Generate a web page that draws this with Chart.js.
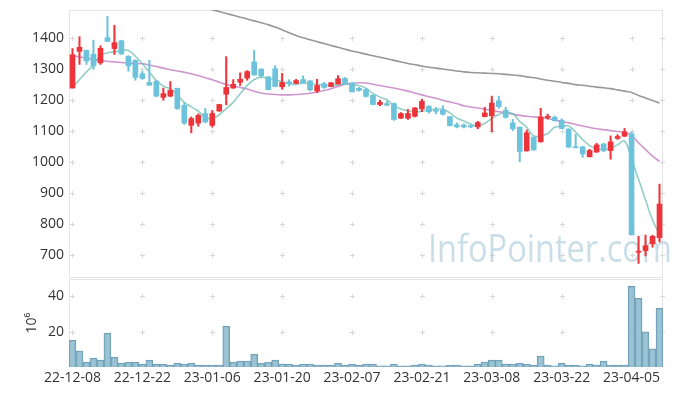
<!DOCTYPE html>
<html>
<head>
<meta charset="utf-8">
<script src="https://cdn.jsdelivr.net/npm/chart.js@4.4.1/dist/chart.umd.min.js"></script>
<style>
	body { margin: 0; background: #ffffff; }
	.wrap { position: relative; width: 673px; height: 396px; overflow: hidden; }
	#priceChart { position: absolute; left: 0; top: 0; }
	#volumeChart { position: absolute; left: 0; top: 278px; }
</style>
</head>
<body>
<div class="wrap">
	<canvas id="priceChart" width="673" height="279"></canvas>
	<canvas id="volumeChart" width="673" height="118"></canvas>
</div>
<script>
// --- Data ---
const dates = [
	"22-12-08", "22-12-09", "22-12-12", "22-12-13", "22-12-14", "22-12-15", "22-12-16", "22-12-19", "22-12-20", "22-12-21",
	"22-12-22", "22-12-23", "22-12-26", "22-12-27", "22-12-28", "22-12-29", "23-01-02", "23-01-03", "23-01-04", "23-01-05",
	"23-01-06", "23-01-09", "23-01-10", "23-01-11", "23-01-12", "23-01-13", "23-01-16", "23-01-17", "23-01-18", "23-01-19",
	"23-01-20", "23-01-25", "23-01-26", "23-01-27", "23-01-30", "23-01-31", "23-02-01", "23-02-02", "23-02-03", "23-02-06",
	"23-02-07", "23-02-08", "23-02-09", "23-02-10", "23-02-13", "23-02-14", "23-02-15", "23-02-16", "23-02-17", "23-02-20",
	"23-02-21", "23-02-22", "23-02-23", "23-02-24", "23-02-27", "23-02-28", "23-03-02", "23-03-03", "23-03-06", "23-03-07",
	"23-03-08", "23-03-09", "23-03-10", "23-03-13", "23-03-14", "23-03-15", "23-03-16", "23-03-17", "23-03-20", "23-03-21",
	"23-03-22", "23-03-23", "23-03-24", "23-03-27", "23-03-28", "23-03-29", "23-03-30", "23-03-31", "23-04-03", "23-04-04",
	"23-04-05", "23-04-06", "23-04-07", "23-04-10", "23-04-11",
];

const opens = [
	1238, 1356, 1359, 1347, 1319, 1400, 1365, 1390, 1340, 1327,
	1284, 1256, 1260, 1208, 1212, 1237, 1182, 1118, 1125, 1156,
	1118, 1164, 1218, 1238, 1257, 1270, 1322, 1299, 1274, 1300,
	1242, 1258, 1253, 1265, 1261, 1229, 1252, 1243, 1251, 1269,
	1254, 1237, 1233, 1215, 1185, 1188, 1188, 1141, 1141, 1147,
	1171, 1179, 1167, 1167, 1146, 1120, 1119, 1117, 1113, 1146,
	1149, 1197, 1167, 1126, 1112, 1036, 1080, 1065, 1143, 1144,
	1134, 1106, 1048, 1049, 1017, 1032, 1058, 1037, 1076, 1083,
	1091, 710, 715, 737, 757,
];
const highs = [
	1365, 1403, 1360, 1392, 1374, 1468, 1440, 1392, 1342, 1329,
	1292, 1327, 1263, 1238, 1259, 1238, 1190, 1145, 1155, 1172,
	1166, 1186, 1339, 1265, 1287, 1294, 1359, 1300, 1275, 1310,
	1285, 1265, 1266, 1277, 1262, 1266, 1256, 1256, 1278, 1272,
	1255, 1240, 1237, 1216, 1199, 1196, 1190, 1159, 1169, 1175,
	1202, 1182, 1176, 1181, 1147, 1126, 1123, 1120, 1131, 1176,
	1212, 1212, 1176, 1137, 1113, 1103, 1081, 1173, 1154, 1148,
	1139, 1107, 1089, 1050, 1041, 1060, 1060, 1084, 1088, 1108,
	1096, 761, 765, 765, 929,
];
const lows = [
	1238, 1314, 1314, 1298, 1314, 1388, 1346, 1346, 1292, 1263,
	1266, 1247, 1210, 1199, 1210, 1169, 1121, 1094, 1115, 1126,
	1112, 1163, 1184, 1237, 1246, 1263, 1279, 1273, 1232, 1242,
	1234, 1244, 1252, 1253, 1229, 1223, 1237, 1242, 1250, 1250,
	1225, 1228, 1209, 1184, 1181, 1181, 1134, 1140, 1137, 1145,
	1162, 1157, 1155, 1151, 1116, 1110, 1110, 1110, 1107, 1145,
	1097, 1173, 1141, 1101, 1001, 1035, 1038, 1064, 1138, 1131,
	1107, 1047, 1045, 1015, 1016, 1031, 1033, 1009, 1073, 1082,
	765, 674, 698, 726, 743,
];
const closes = [
	1345, 1369, 1325, 1309, 1366, 1388, 1384, 1348, 1309, 1272,
	1269, 1247, 1212, 1220, 1231, 1172, 1125, 1140, 1150, 1129,
	1156, 1185, 1240, 1250, 1266, 1291, 1280, 1277, 1233, 1243,
	1256, 1253, 1262, 1255, 1232, 1246, 1240, 1255, 1268, 1251,
	1226, 1230, 1211, 1185, 1192, 1183, 1137, 1156, 1156, 1174,
	1195, 1162, 1163, 1154, 1117, 1113, 1113, 1113, 1127, 1158,
	1190, 1178, 1144, 1107, 1034, 1094, 1039, 1145, 1147, 1133,
	1108, 1048, 1046, 1026, 1037, 1055, 1037, 1065, 1082, 1097,
	766, 713, 731, 761, 865,
];

// moving average lines (short, middle, long)
const maShort = [
	1240, 1265, 1290, 1312, 1343, 1351.4, 1354.4, 1359, 1359, 1340.2,
	1316.4, 1289, 1261.8, 1244, 1235.8, 1216.4, 1192, 1177.6, 1163.6, 1143.2,
	1140, 1152, 1172, 1192, 1219.4, 1246.4, 1265.4, 1272.8, 1269.4, 1264.8,
	1257.8, 1252.4, 1249.4, 1253.8, 1251.6, 1249.6, 1247, 1245.6, 1248.2, 1252,
	1248, 1246, 1237.2, 1220.6, 1208.8, 1200.2, 1181.6, 1170.6, 1164.8, 1161.2,
	1163.6, 1168.6, 1170, 1169.6, 1158.2, 1141.8, 1132, 1122, 1116.6, 1124.8,
	1140.2, 1153.2, 1159.4, 1155.4, 1130.6, 1111.4, 1083.6, 1083.8, 1091.8, 1111.6,
	1114.4, 1116.2, 1096.4, 1072.2, 1053, 1042.4, 1040.2, 1044, 1055.2, 1067.2,
	1009.4, 944.6, 877.8, 813.6, 767.2,
];
const maMid = [
	1342, 1338, 1334, 1330, 1327, 1324, 1322, 1320, 1318, 1317,
	1316, 1312, 1307, 1302, 1297, 1293, 1289, 1284, 1278, 1271,
	1265, 1257, 1249, 1244, 1240, 1235, 1228, 1222, 1219, 1217,
	1216, 1216, 1217, 1219, 1221, 1225, 1230, 1236, 1243, 1250,
	1253, 1255, 1254, 1250, 1246, 1242, 1238, 1233, 1228, 1222,
	1216, 1210, 1205, 1199, 1193, 1188, 1181, 1177, 1174, 1170,
	1166, 1162, 1158, 1154, 1150, 1147, 1145, 1143, 1140, 1135,
	1130, 1126, 1121, 1116, 1111, 1107, 1104, 1101, 1098, 1096,
	1086, 1062, 1040, 1019, 1002,
];
const maLong = [
	null, null, null, null, null, null, null, null, null, null,
	null, null, null, null, null, null, null, 1508, 1502, 1496,
	1490, 1484, 1478, 1472, 1466, 1460, 1454, 1448, 1442, 1434,
	1425, 1416, 1407, 1400, 1393, 1387, 1381, 1375, 1369, 1363,
	1357, 1352, 1347, 1342, 1337, 1332, 1327, 1322, 1317, 1313,
	1309, 1305, 1302, 1299, 1296, 1293, 1290, 1288, 1287, 1286,
	1285, 1284, 1282, 1280, 1278, 1274, 1271, 1267, 1263, 1260,
	1256, 1253, 1249, 1247, 1244, 1241, 1239, 1236, 1232, 1228,
	1224, 1214, 1206, 1198, 1190,
];

// volume in millions of shares
const volumes = [
	15.1, 9.0, 2.8, 5.0, 3.9, 19.1, 5.6, 2.2, 2.8, 2.8,
	1.7, 3.9, 1.7, 1.7, 1.1, 2.2, 1.7, 2.2, 1.1, 1.1,
	1.1, 1.1, 23.0, 2.8, 3.4, 3.4, 7.3, 2.2, 2.8, 3.9,
	1.7, 1.7, 1.1, 1.7, 1.7, 1.1, 1.1, 1.1, 2.2, 1.1,
	1.7, 1.1, 1.7, 1.7, 0.6, 0.6, 1.7, 0.6, 0.6, 1.1,
	1.7, 1.1, 0.6, 0.6, 1.1, 1.1, 0.6, 0.6, 1.7, 2.8,
	3.9, 3.9, 1.7, 1.7, 2.2, 1.7, 1.1, 6.2, 1.1, 0.6,
	2.2, 1.1, 1.1, 0.6, 1.7, 1.1, 3.4, 1.1, 1.1, 1.1,
	45.4, 38.7, 19.8, 10.3, 33.1,
];

const priceTicks = [700, 800, 900, 1000, 1100, 1200, 1300, 1400];
const volumeTicks = [20, 40];

// --- Colors ---
const upColor = "#ec343a";
const downColor = "#6cc3db";
const tickColor = "#333333";
const borderGray = "#e4e4e4";
const crossGray = "#d8d8d8";

const candleColors = closes.map((c, i) => (c >= opens[i] ? upColor : downColor));

// small "+" marks instead of full grid lines, plus the light frame
function drawFrameAndCrosses(chart, yScale, yValues) {
	const { ctx, chartArea } = chart;
	const xScale = chart.scales.x;
	const xs = [];
	dates.forEach((d, i) => {
		if (i % 10 === 0) xs.push(Math.round(xScale.getPixelForValue(i)) + 0.5);
	});
	xs.push(Math.round(chartArea.right) - 0.5);

	ctx.save();
	ctx.strokeStyle = borderGray;
	ctx.lineWidth = 1;
	ctx.strokeRect(
		Math.round(chartArea.left) + 0.5,
		Math.round(chartArea.top) + 0.5,
		Math.round(chartArea.width) - 1,
		Math.round(chartArea.height) - 1
	);

	ctx.strokeStyle = crossGray;
	yValues.forEach((v) => {
		const y = Math.round(yScale.getPixelForValue(v)) + 0.5;
		xs.forEach((x) => {
			ctx.beginPath();
			ctx.moveTo(x - 2.5, y);
			ctx.lineTo(x + 2.5, y);
			ctx.moveTo(x, y - 2.5);
			ctx.lineTo(x, y + 2.5);
			ctx.stroke();
		});
	});
	ctx.restore();
}

const priceBackground = {
	id: "priceBackground",
	beforeDatasetsDraw(chart) {
		drawFrameAndCrosses(chart, chart.scales.y, priceTicks);

		// watermark
		const { ctx } = chart;
		ctx.save();
		ctx.font = "38px 'Open Sans'";
		ctx.fillStyle = "rgba(170, 202, 218, 0.62)";
		ctx.textBaseline = "alphabetic";
		const text = "InfoPointer.com";
		const w = ctx.measureText(text).width;
		ctx.translate(428, 262);
		ctx.scale(244 / w, 1);
		ctx.fillText(text, 0, 0);
		ctx.restore();
	},
};

const volumeBackground = {
	id: "volumeBackground",
	beforeDatasetsDraw(chart) {
		drawFrameAndCrosses(chart, chart.scales.y, volumeTicks);
	},
};

const tickFont = { family: "'Open Sans', sans-serif", size: 14 };

// fixed-width y axis without the extra label padding above and below
function fixYAxis(scale) {
	scale.width = 69;
	scale.paddingTop = 0;
	scale.paddingBottom = 0;
}

// --- Price (candlestick) chart ---
new Chart(document.getElementById("priceChart"), {
	type: "bar",
	data: {
		labels: dates,
		datasets: [
			{
				label: "body",
				data: opens.map((o, i) => [o, closes[i]]),
				backgroundColor: candleColors,
				borderWidth: 0,
				barThickness: 5,
				minBarLength: 1,
				grouped: false,
			},
			{
				label: "wick",
				data: lows.map((l, i) => [l, highs[i]]),
				backgroundColor: candleColors,
				borderWidth: 0,
				barThickness: 1.4,
				grouped: false,
			},
			{
				type: "line",
				label: "MA short",
				data: maShort,
				borderColor: "rgba(110, 190, 178, 0.75)",
				borderWidth: 1.6,
				pointRadius: 0,
				tension: 0.4,
			},
			{
				type: "line",
				label: "MA mid",
				data: maMid,
				borderColor: "rgba(190, 115, 190, 0.75)",
				borderWidth: 1.6,
				pointRadius: 0,
				tension: 0.4,
			},
			{
				type: "line",
				label: "MA long",
				data: maLong,
				borderColor: "rgba(125, 125, 125, 0.8)",
				borderWidth: 1.6,
				pointRadius: 0,
				tension: 0.4,
			},
		],
	},
	options: {
		responsive: false,
		animation: false,
		layout: { padding: { top: 10, right: 10, bottom: 1, left: 0 } },
		plugins: { legend: { display: false }, tooltip: { enabled: false } },
		scales: {
			x: {
				display: false,
				offset: true,
			},
			y: {
				min: 627,
				max: 1489,
				afterFit: fixYAxis,
				afterBuildTicks: (scale) => {
					scale.ticks = priceTicks.map((v) => ({ value: v }));
				},
				ticks: {
					color: tickColor,
					font: tickFont,
					padding: 5,
					callback: (value) => String(value),
				},
				grid: { display: false, drawTicks: false },
				border: { display: false },
			},
		},
	},
	plugins: [priceBackground],
});

// --- Volume chart ---
new Chart(document.getElementById("volumeChart"), {
	type: "bar",
	data: {
		labels: dates,
		datasets: [
			{
				label: "volume",
				data: volumes,
				backgroundColor: "rgba(138, 184, 204, 0.85)",
				borderColor: "#6f9fb6",
				borderWidth: 1,
				barPercentage: 1,
				categoryPercentage: 1,
			},
		],
	},
	options: {
		responsive: false,
		animation: false,
		layout: { padding: { top: 1, right: 10, bottom: 0, left: 0 } },
		plugins: { legend: { display: false }, tooltip: { enabled: false } },
		scales: {
			x: {
				offset: true,
				afterFit: (scale) => {
					scale.height = 29;
					scale.paddingLeft = 0;
					scale.paddingRight = 0;
				},
				ticks: {
					color: tickColor,
					font: tickFont,
					autoSkip: false,
					maxRotation: 0,
					padding: 3,
					callback: function (value, index) {
						return index % 10 === 0 ? dates[index] : null;
					},
				},
				grid: { display: false, drawTicks: false },
				border: { display: false },
			},
			y: {
				min: 0,
				max: 49.6,
				afterFit: fixYAxis,
				afterBuildTicks: (scale) => {
					scale.ticks = volumeTicks.map((v) => ({ value: v }));
				},
				title: {
					display: true,
					text: "10⁶",
					color: tickColor,
					font: tickFont,
					padding: { top: 24, bottom: 0 },
				},
				ticks: { color: tickColor, font: tickFont, padding: 5 },
				grid: { display: false, drawTicks: false },
				border: { display: false },
			},
		},
	},
	plugins: [volumeBackground],
});
</script>
</body>
</html>
